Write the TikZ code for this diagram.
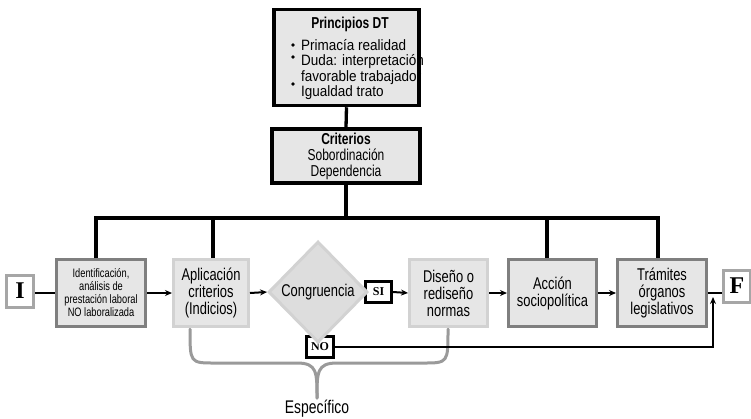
\documentclass[tikz,border=0pt]{standalone}
\usepackage{fontspec}
\setmainfont{Liberation Sans}[FakeStretch=0.76]
\newfontfamily\listfont{Liberation Sans}[FakeStretch=0.9]
\newfontfamily\romanbf{Liberation Serif}
\usetikzlibrary{shapes.geometric,arrows.meta}
\definecolor{boxfill}{HTML}{E6E6E6}
\definecolor{darkrim}{HTML}{7F7F7F}
\definecolor{lightrim}{HTML}{D2D2D2}
\definecolor{midrim}{HTML}{A6A6A6}
\definecolor{bracegray}{HTML}{9A9A9A}

\begin{document}
\begin{tikzpicture}[x=1pt,y=-1pt,>={Stealth[length=7pt,width=6pt]},
    blackbox/.style={draw=black,line width=3.5pt,fill=boxfill,inner sep=0pt,align=center,font=\fontsize{15.8}{16}\selectfont},
    darkbox/.style={draw=darkrim,line width=3pt,fill=boxfill,inner sep=0pt,align=center,minimum width=89pt,minimum height=67pt,font=\fontsize{17}{17}\selectfont},
    lightbox/.style={draw=lightrim,line width=3pt,fill=boxfill,inner sep=0pt,align=center,minimum height=67pt,font=\fontsize{17}{17}\selectfont},
    endbox/.style={draw=midrim,line width=3pt,fill=white,inner sep=0pt,minimum width=27pt,minimum height=32pt,font=\romanbf\bfseries\fontsize{24}{24}\selectfont},
    tagbox/.style={draw=black,line width=3pt,fill=white,inner sep=0pt,minimum height=21pt,font=\romanbf\bfseries\fontsize{12}{12}\selectfont},
    tree/.style={line width=3.3pt},
    flow/.style={line width=2pt},
    brace/.style={draw=bracegray,line width=3pt,line cap=round}
]
    \useasboundingbox (0,0) rectangle (751,418);
    \coordinate (barL) at (96,218);
    \coordinate (barR) at (658,218);
    \coordinate (dropA) at (213,218);
    \coordinate (dropB) at (547,218);
    \coordinate (back) at (713,292);

    % brace under the middle boxes
    \draw[brace] (190,329) .. controls (190,363) and (190,363) .. (215,363) -- (297,363) .. controls (317,363) and (317,372) .. (317,398);
    \draw[brace] (448,329) .. controls (448,363) and (448,363) .. (423,363) -- (337,363) .. controls (317,363) and (317,372) .. (317,398);
    \node[font=\fontsize{18.3}{18}\selectfont] (especifico) at (317,409) {Específico};

    % top boxes
    \node[blackbox,minimum width=145pt,minimum height=96pt] (principios) at (346.5,57.5) {};
    \node[anchor=base,font=\bfseries\fontsize{15.8}{16}\selectfont,inner sep=0pt] (titulo) at (350,28) {Principios DT};
    \foreach \linea [count=\i] in {Primacía realidad,Duda: interpretación,favorable trabajador,Igualdad trato}
        \node[anchor=base west,font=\listfont\fontsize{15}{16}\selectfont,inner sep=0pt] (linea\i) at (301,{34.5+15.5*\i}) {\linea};
    \foreach \y in {45,57,84}
        \fill (293,\y) circle (1.8);
    \node[blackbox,minimum width=148pt,minimum height=54pt] (criterios) at (346,156) {\textbf{Criterios}\\Sobordinación\\Dependencia};

    % row
    \node[endbox] (I) at (20,291) {I};
    \node[darkbox,font=\fontsize{12.2}{13}\selectfont] (ident) at (101,293) {Identificación,\\análisis de\\prestación laboral\\NO laboralizada};
    \node[lightbox,minimum width=75pt] (aplic) at (211,293) {Aplicación\\criterios\\(Indicios)};
    \node[tagbox,minimum width=26pt] (si) at (378.5,292) {SI};
    \node[tagbox,minimum width=27pt] (no) at (320,347) {NO};
    \node[diamond,draw=lightrim,line width=3pt,fill=boxfill!96!black,inner sep=0pt,minimum width=99pt,minimum height=101pt,font=\fontsize{17}{17}\selectfont] (congr) at (318,292) {Congruencia};
    \node[lightbox,minimum width=78pt] (diseno) at (448.5,293) {Diseño o\\rediseño\\normas};
    \node[darkbox,minimum width=88pt] (accion) at (552.5,293) {Acción\\sociopolítica};
    \node[darkbox] (tramites) at (662,293) {Trámites\\órganos\\legislativos};
    \node[endbox] (F) at (737,286) {F};

    % tree from the criteria down to the row
    \draw[tree] (principios.south) -- (criterios.north);
    \draw[tree] (criterios.south) -- (criterios.south |- barL);
    \draw[tree] (ident.north -| barL) -- (barL) -- (barR) -- (barR |- tramites.north);
    \draw[tree] (aplic.north -| dropA) -- (dropA);
    \draw[tree] (accion.north -| dropB) -- (dropB);

    % flow along the row
    \draw[flow] (I.east |- ident.west) -- (ident.west);
    \draw[flow,->] (ident.east) -- (aplic.west);
    \draw[flow,->] (aplic.east) -- (congr.west);
    \draw[flow,->] (si.east) -- (diseno.west);
    \draw[flow,->] (diseno.east) -- (accion.west);
    \draw[flow,->] (accion.east) -- (tramites.west);
    \draw[flow] (tramites.east) -- (tramites.east -| F.west);
    \draw[flow,->,shorten >=5pt] (no.east) -| (back);
\end{tikzpicture}
\end{document}
